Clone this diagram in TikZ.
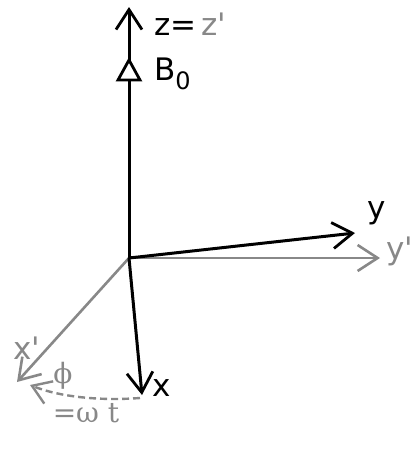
\documentclass[tikz,border=0pt]{standalone}
\usepackage{fontspec}
\setmainfont{DejaVu Sans}[Ligatures=TeXOff]
\newfontfamily\serifgr{DejaVu Serif}
\usetikzlibrary{arrows.meta}
\definecolor{axgray}{HTML}{888888}
\tikzset{
  blackax/.style={line width=3pt, black, -{Straight Barb[length=20pt,width=26pt,line width=2.8pt]}},
  grayax/.style={line width=2.6pt, axgray, -{Straight Barb[length=20pt,width=26pt,line width=2.6pt]}},
  lbl/.style={inner sep=0pt, font=\fontsize{31}{36}\selectfont},
  glbl/.style={lbl, text=axgray},
}
\begin{document}
\begin{tikzpicture}[x=1pt,y=-1pt]
\useasboundingbox (0,0) rectangle (415,451);
\coordinate (O) at (129,258);
\coordinate (ztip) at (129,7);
\coordinate (ytip) at (355,233);
\coordinate (yptip) at (380,258);
\coordinate (xtip) at (142,395);
\coordinate (xptip) at (17,382);
\coordinate (arcA) at (140,398);
\coordinate (arcB) at (30,385);
% gray axes
\draw[grayax] (O) -- (yptip);
\draw[grayax] (O) -- (xptip);
% black axes
\draw[blackax] (O) -- (ztip);
\draw[blackax] (O) -- (ytip);
\draw[blackax] (O) -- (xtip);
% B0 triangle
\draw[line width=2.8pt, fill=white, line join=miter] (129,60) -- (140,80) -- (118,80) -- cycle;
% dashed rotation arc
\draw[line width=2.4pt, axgray, dash pattern=on 7pt off 4pt, -{Straight Barb[length=18pt,width=24pt,line width=2.4pt]}]
  (arcA) .. controls (100,401) and (60,397) .. (arcB);
% labels
\node[lbl, anchor=west] (zl) at (154,24) {z=\,\textcolor{axgray}{z'}};
\node[lbl, anchor=west] (bl) at (154,74) {B\raisebox{-9pt}{\fontsize{24}{24}\selectfont 0}};
\node[lbl] (yl) at (377,213) {y};
\node[glbl] (ypl) at (400,251) {y'};
\node[lbl] (xl) at (162,388) {x};
\node[glbl] (xpl) at (27,348) {x'};
\node[glbl] (phil) at (63,376) {\serifgr\fontsize{28}{30}\selectfont ϕ};
\node[glbl] (wtl) at (86,413) {\serifgr\fontsize{28}{30}\selectfont =ω t};
\end{tikzpicture}
\end{document}
